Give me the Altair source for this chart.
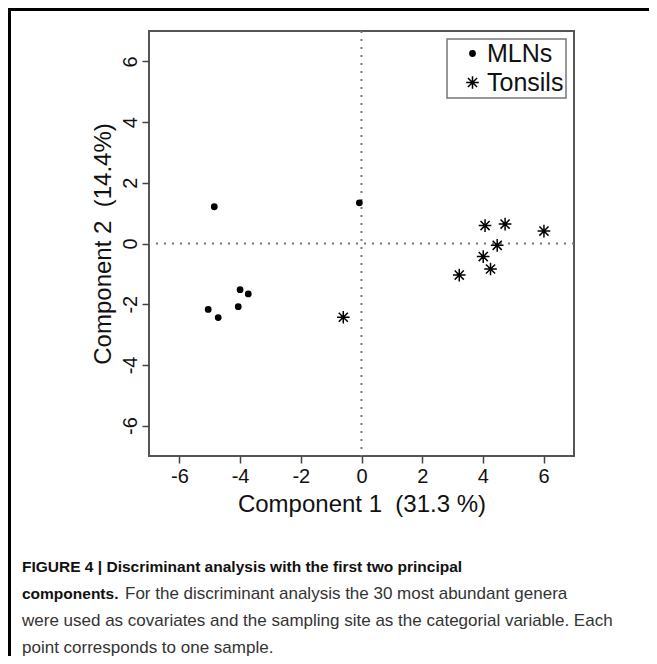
import altair as alt
import pandas as pd

# ---- data ----
mln_x = [-4.85, -0.07, -4.00, -3.73, -4.06, -5.05, -4.72]
mln_y = [1.21, 1.34, -1.52, -1.66, -2.08, -2.17, -2.44]
ton_x = [-0.60, 4.07, 4.73, 6.01, 4.47, 4.01, 4.25, 3.22]
ton_y = [-2.43, 0.59, 0.64, 0.41, -0.06, -0.43, -0.84, -1.04]
groups = ["MLNs", "Tonsils"]
ticks = [-6, -4, -2, 0, 2, 4, 6]
x_title = "Component 1\u00a0\u00a0(31.3 %)"
y_title = "Component 2\u00a0\u00a0(14.4%)"
caption_bold1 = "FIGURE 4 | Discriminant analysis with the first two principal"
caption_bold2 = "components."
caption_rest2 = "For the discriminant analysis the 30 most abundant genera"
caption_line3 = "were used as covariates and the sampling site as the categorial variable. Each"
caption_line4 = "point corresponds to one sample."

df = pd.DataFrame({
    "x": mln_x + ton_x,
    "y": mln_y + ton_y,
    "g": [groups[0]] * len(mln_x) + [groups[1]] * len(ton_x),
})

FONT = "Liberation Sans"
ASTERISK = "M-1,0L1,0M0,-1L0,1M-0.72,-0.72L0.72,0.72M-0.72,0.72L0.72,-0.72"

xs = alt.Scale(domain=[-7, 7], nice=False, zero=False)
ys = alt.Scale(domain=[-7, 7], nice=False, zero=False)

leg = alt.Legend(
    orient="none", legendX=298, legendY=8, title=None,
    labelFontSize=25, labelFont=FONT, labelColor="#111",
    strokeColor="#777", fillColor="white",
    padding=2, rowPadding=3, symbolOffset=11, labelOffset=2,
    symbolStrokeColor="black", symbolStrokeWidth=1.5,
)

points = alt.Chart(df).mark_point(filled=False, strokeWidth=1.5, opacity=1).encode(
    x=alt.X("x:Q", scale=xs, axis=alt.Axis(
        values=ticks, title=x_title, labelExpr="'' + datum.value")),
    y=alt.Y("y:Q", scale=ys, axis=alt.Axis(
        values=ticks, title=y_title, labelExpr="'' + datum.value",
        labelAngle=270, labelAlign="center", labelBaseline="bottom")),
    shape=alt.Shape("g:N", scale=alt.Scale(domain=groups, range=["circle", ASTERISK]), legend=leg),
    size=alt.Size("g:N", scale=alt.Scale(domain=groups, range=[28, 160]), legend=leg),
    fill=alt.Fill("g:N", scale=alt.Scale(domain=groups, range=["black", "transparent"]), legend=leg),
    stroke=alt.Stroke("g:N", scale=alt.Scale(domain=groups, range=["black", "black"]), legend=leg),
)

one = pd.DataFrame({"a": [0]})
vline = alt.Chart(one).mark_rule(color="#777", strokeWidth=2, strokeDash=[2, 6]).encode(
    x=alt.datum(0, type="quantitative", scale=xs))
hline = alt.Chart(one).mark_rule(color="#777", strokeWidth=2, strokeDash=[2, 6]).encode(
    y=alt.datum(0, type="quantitative", scale=ys))

frame = alt.Chart(one).mark_rect(filled=False, stroke="black", strokeWidth=3).encode(
    x=alt.value(-139.5), x2=alt.value(600), y=alt.value(-21.5), y2=alt.value(720))


def cap(text, x, y, bold=False):
    return alt.Chart(pd.DataFrame({"t": [text]})).mark_text(
        align="left", baseline="middle", font=FONT,
        fontSize=15.5 if bold else 17,
        fontWeight="bold" if bold else "normal",
        color="#111" if bold else "#333").encode(
        text="t:N", x=alt.value(x), y=alt.value(y))


captions = [
    cap(caption_bold1, -127, 536, bold=True),
    cap(caption_bold2, -127, 563, bold=True),
    cap(caption_rest2, -24, 563),
    cap(caption_line3, -127, 590),
    cap(caption_line4, -127, 617),
]

chart = alt.layer(frame, vline, hline, points, *captions).properties(
    width=425, height=425,
    autosize=alt.AutoSizeParams(type="none"),
    padding={"left": 141, "top": 23, "right": 75, "bottom": 200},
).configure_view(stroke="#555", strokeWidth=2).configure_axis(
    grid=False, domain=False, tickColor="#444", tickWidth=1.5, tickSize=7,
    labelFont=FONT, labelFontSize=20, labelColor="#111",
    titleFont=FONT, titleFontSize=24, titleFontWeight="normal", titleColor="#111",
).configure_axisX(labelPadding=3, titlePadding=6).configure_axisY(
    labelPadding=2, titlePadding=5).configure_legend(strokeWidth=1.5)

chart.save("out.html", embed_options={"renderer": "svg", "actions": False})
